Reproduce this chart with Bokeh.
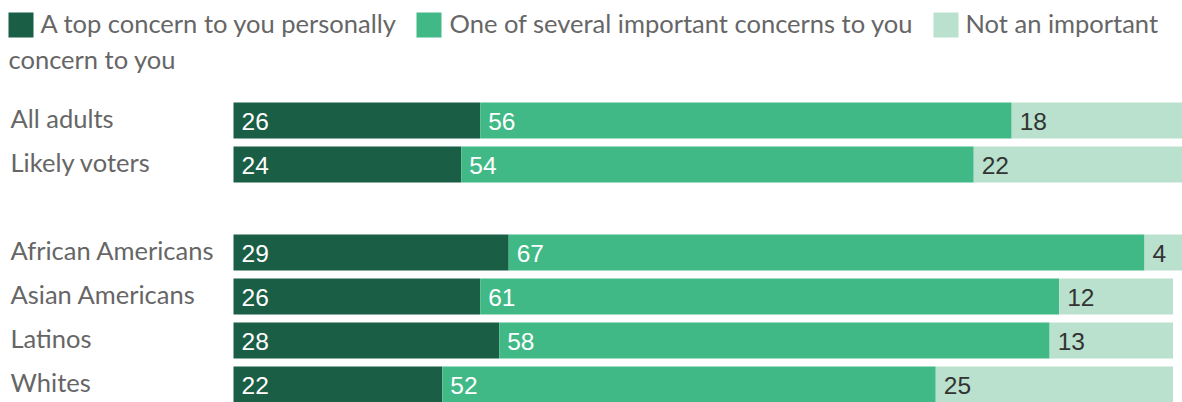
import numpy as np
from bokeh.plotting import figure
from bokeh.models import ColumnDataSource, Range1d
from bokeh.core.properties import value
from bokeh.embed import file_html
from bokeh.resources import INLINE

categories = ["All adults", "Likely voters", "African Americans", "Asian Americans", "Latinos", "Whites"]
row_index = [0, 1, 3, 4, 5, 6]
series_names = ["A top concern to you personally", "One of several important concerns to you",
                "Not an important concern to you"]
top_concern = [26, 24, 29, 26, 28, 22]
several = [56, 54, 67, 61, 58, 52]
not_important = [18, 22, 4, 12, 13, 25]

colors = ["#1b5e46", "#41b987", "#b9e1cd"]
label_colors = ["#ffffff", "#ffffff", "#333333"]

W, H = 1182, 402
X0_PX = 233.0
SCALE = 9.49          # px per percentage point
ROW0_PX = 120.0       # centre of first row, px from top
STEP = 44.0           # px per row

x_start = -X0_PX / SCALE
x_end = (W - X0_PX) / SCALE
y_top = -ROW0_PX / STEP
y_bottom = (H - ROW0_PX) / STEP

def dx(px):
    return x_start + px / SCALE

def dy(py):
    return y_top + py / STEP

p = figure(width=W, height=H, output_backend="svg", toolbar_location=None,
           x_range=Range1d(x_start, x_end), y_range=Range1d(y_bottom, y_top),
           min_border=0, min_border_left=0, min_border_right=0,
           min_border_top=0, min_border_bottom=0)
p.axis.visible = False
p.grid.visible = False
p.outline_line_color = None
p.background_fill_color = "white"
p.border_fill_color = "white"

src = ColumnDataSource(dict(y=row_index, top=top_concern, sev=several, notimp=not_important))
p.hbar_stack(["top", "sev", "notimp"], y="y", height=36 / STEP, color=colors,
             line_color=None, source=src)

# value labels
vals = np.array([top_concern, several, not_important], dtype=float)
lefts = np.vstack([np.zeros(len(categories)), np.cumsum(vals, axis=0)[:-1]])
for k in range(3):
    p.text(x=list(lefts[k]), y=row_index, text=[str(int(v)) for v in vals[k]],
           text_font=value("Liberation Sans"), text_font_size="24.5px",
           text_color=label_colors[k], text_baseline="middle", text_align="left",
           x_offset=8, y_offset=1)

FONT = value("Lato")
FS = "25.5px"
GREY = "#666666"

# category labels
p.text(x=[dx(10)] * len(categories), y=row_index, text=categories,
       text_font=FONT, text_font_size=FS, text_color=GREY,
       text_baseline="middle", text_align="left", y_offset=-3)

# legend
sq_left = [8, 416, 933]
sq_w = 25
txt_x = [40, 449, 965]
for k in range(3):
    p.quad(left=[dx(sq_left[k])], right=[dx(sq_left[k] + sq_w)],
           top=[dy(12)], bottom=[dy(37)], color=colors[k], line_color=None)
first_lines = [series_names[0], series_names[1], "Not an important"]
p.text(x=[dx(v) for v in txt_x], y=[dy(22)] * 3, text=first_lines,
       text_font=FONT, text_font_size=FS, text_color=GREY,
       text_baseline="middle", text_align="left")
p.text(x=[dx(8)], y=[dy(58)], text=["concern to you"],
       text_font=FONT, text_font_size=FS, text_color=GREY,
       text_baseline="middle", text_align="left")

open("out.html", "w").write(file_html(p, INLINE))
